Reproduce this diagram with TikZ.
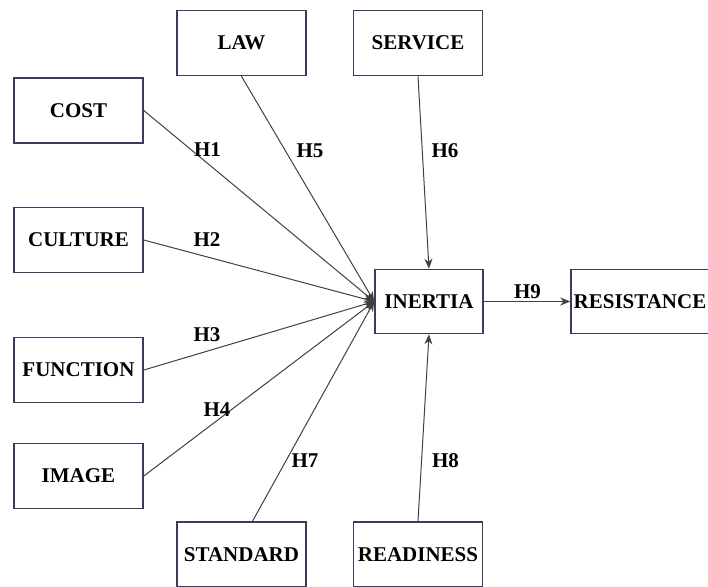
\documentclass[tikz,border=0pt]{standalone}
\usepackage{fontspec}
\setmainfont{Liberation Serif}
\usetikzlibrary{arrows.meta}
\definecolor{boxblue}{HTML}{3C3C5C}
\definecolor{linegray}{HTML}{404040}
\begin{document}
\begin{tikzpicture}[x=0.5pt,y=-0.5pt,line width=0.5pt,font=\fontsize{10.5}{12}\selectfont\bfseries]
  \tikzset{
    box/.style={draw=boxblue, line width=0.8pt, minimum width=64.5pt, minimum height=32.5pt, inner sep=0pt},
    link/.style={draw=linegray, line width=0.5pt, -{Stealth[length=5pt,width=4pt]}},
  }
  \useasboundingbox (0,0) rectangle (708,586);

  % --- antecedent boxes (left column, top row, bottom row) ---
  \foreach \name/\x/\y/\txt in {%
    cost/78.5/110.5/COST,
    culture/78.5/240/CULTURE,
    function/78.5/370/FUNCTION,
    image/78.5/476/IMAGE,
    law/241.5/43/LAW,
    service/418/43/SERVICE,
    standard/241.5/554.5/STANDARD,
    readiness/418/554.5/READINESS
  } {
    \node[box] (\name) at (\x,\y) {\txt};
  }

  % --- central construct and outcome ---
  \node[box, minimum width=54pt, minimum height=32pt] (inertia) at (429,301.5) {INERTIA};
  \node[box, minimum width=69pt, minimum height=32pt] (resistance) at (640,301.5) {RESISTANCE};

  % --- paths H1..H8 into inertia ---
  \foreach \src in {cost,culture,function,image}
    \draw[link] (\src.east) -- (inertia.west);
  \draw[link] (law.south) -- (inertia.west);
  \draw[link] ([xshift=5.5pt]standard.north) -- (inertia.west);
  \draw[link] (service.south) -- (inertia.north);
  \draw[link] (readiness.north) -- (inertia.south);
  \draw[link] (inertia.east) -- (resistance.west);

  % --- hypothesis labels ---
  \foreach \lab/\x/\y in {%
    H1/207.5/150, H2/207/240, H3/207/335, H4/217/410,
    H5/310/151, H6/445/151, H7/305/461, H8/445.5/461, H9/527.5/292
  } {
    \node[inner sep=0pt] (\lab) at (\x,\y) {\lab};
  }

\end{tikzpicture}
\end{document}
